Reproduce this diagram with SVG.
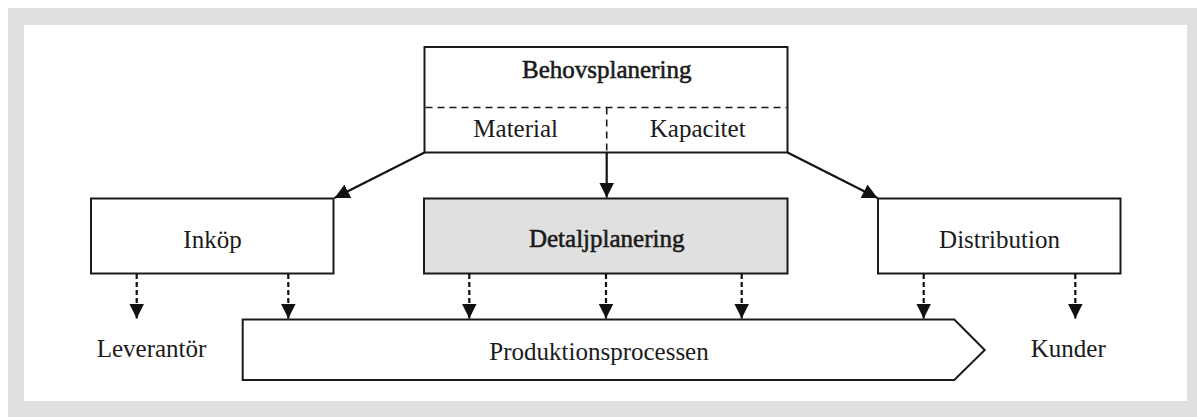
<svg xmlns="http://www.w3.org/2000/svg" width="1197" height="417" viewBox="0 0 1197 417">
  <style>
    .box { fill: #ffffff; stroke: #1a1a1a; stroke-width: 2; }
    .hi { fill: #e0e0e0; }
    .lbl { font-family: "Liberation Serif", "Times New Roman", serif; font-size: 25px; fill: #1a1a1a; text-anchor: middle; }
    .semi { stroke: #1a1a1a; stroke-width: 0.55; }
    .sep { fill: none; stroke: #1a1a1a; stroke-width: 1.6; stroke-dasharray: 7 5; }
    .conn { fill: none; stroke: #111; stroke-width: 2.2; }
    .dash { stroke-dasharray: 5 3; }
  </style>
  <defs>
    <marker id="head" markerUnits="userSpaceOnUse" markerWidth="16" markerHeight="16" refX="15" refY="7.5" orient="auto">
      <path d="M0,0 L15,7.5 L0,15 z" fill="#111"/>
    </marker>
  </defs>

  <!-- frame -->
  <rect x="8" y="8" width="1189" height="409" fill="#e0e0e0"/>
  <rect x="24" y="25" width="1163" height="376" fill="#ffffff"/>

  <g id="behovsplanering">
    <rect class="box" x="424.5" y="47" width="363" height="105.5"/>
    <path class="sep" d="M425.5,107.5 H786.5 M606.7,107.5 V152"/>
    <text class="lbl semi" x="606.7" y="78">Behovsplanering</text>
    <text class="lbl" x="515.7" y="137">Material</text>
    <text class="lbl" x="697.7" y="137">Kapacitet</text>
  </g>

  <g id="inkop">
    <rect class="box" x="91" y="198.5" width="242.5" height="75"/>
    <text class="lbl" x="212.5" y="248">Inköp</text>
  </g>

  <g id="detaljplanering">
    <rect class="box hi" x="424" y="198.5" width="363.5" height="75"/>
    <text class="lbl semi" x="606.7" y="247">Detaljplanering</text>
  </g>

  <g id="distribution">
    <rect class="box" x="878" y="198.5" width="242.5" height="75"/>
    <text class="lbl" x="999.5" y="248">Distribution</text>
  </g>

  <g id="produktionsprocessen">
    <path class="box" d="M242.7,319.5 H954.3 L984.7,350 L954.3,380 H242.7 Z"/>
    <text class="lbl" x="599" y="360">Produktionsprocessen</text>
  </g>

  <g id="leverantor">
    <text class="lbl" x="151.5" y="357">Leverantör</text>
  </g>

  <g id="kunder">
    <text class="lbl" x="1068.3" y="357">Kunder</text>
  </g>

  <g id="connectors">
    <line class="conn" x1="424.5" y1="152.5" x2="334.5" y2="198" marker-end="url(#head)"/>
    <line class="conn" x1="787.5" y1="152.5" x2="877.5" y2="198" marker-end="url(#head)"/>
    <line class="conn" x1="606.7" y1="152.5" x2="606.7" y2="197.5" marker-end="url(#head)"/>

    <line class="conn dash" x1="136.7" y1="274" x2="136.7" y2="318.5" marker-end="url(#head)"/>
    <line class="conn dash" x1="288.3" y1="274" x2="288.3" y2="318.5" marker-end="url(#head)"/>
    <line class="conn dash" x1="469.3" y1="274" x2="469.3" y2="318.5" marker-end="url(#head)"/>
    <line class="conn dash" x1="606" y1="274" x2="606" y2="318.5" marker-end="url(#head)"/>
    <line class="conn dash" x1="741.7" y1="274" x2="741.7" y2="318.5" marker-end="url(#head)"/>
    <line class="conn dash" x1="923.7" y1="274" x2="923.7" y2="318.5" marker-end="url(#head)"/>
    <line class="conn dash" x1="1075.3" y1="274" x2="1075.3" y2="318.5" marker-end="url(#head)"/>
  </g>
</svg>
